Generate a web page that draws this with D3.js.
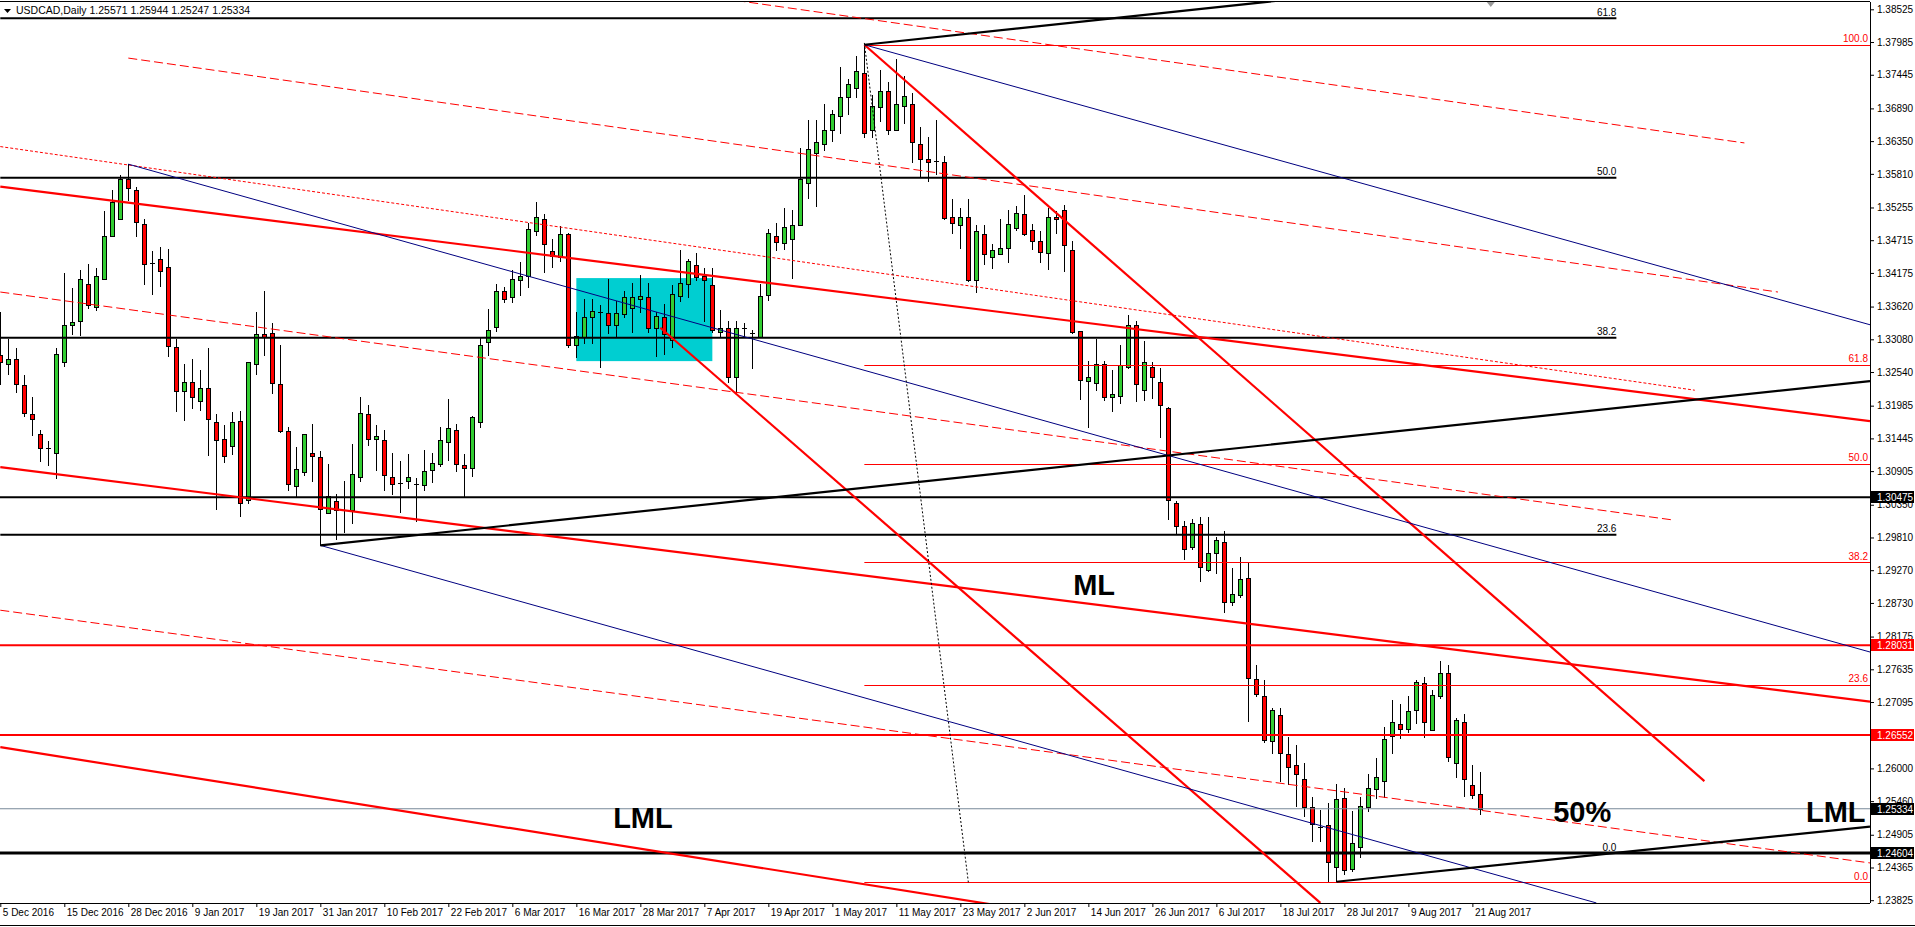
<!DOCTYPE html>
<html><head><meta charset="utf-8">
<script src="https://cdn.jsdelivr.net/npm/d3@7"></script>
<style>
html,body{margin:0;padding:0;background:#fff;overflow:hidden}
svg{display:block}
text{font-family:"Liberation Sans",Arial,sans-serif}
</style></head><body>
<svg id="c" width="1915" height="927"></svg>
<script>
// ---------- DATA ----------
const symbolTitle = "USDCAD,Daily";
const headerValues = ["1.25571","1.25944","1.25247","1.25334"];

const open = [1.3282,1.3268,1.3276,1.3233,1.3185,1.3151,1.3128,1.3121,1.3271,1.3331,
1.3339,1.3400,1.3362,1.3408,1.3478,1.3506,1.3573,1.3554,1.3499,1.3434,
1.3440,1.3427,1.3296,1.3223,1.3238,1.3207,1.3228,1.3171,1.3144,1.3132,
1.3174,1.3043,1.3268,1.3316,1.3319,1.3235,1.3157,1.3066,1.3089,1.3121,
1.3114,1.3022,1.3042,1.3027,1.3026,1.3080,1.3185,1.3143,1.3142,1.3081,
1.3071,1.3075,1.3070,1.3067,1.3093,1.3103,1.3139,1.3159,1.3100,1.3096,
1.3172,1.3303,1.3328,1.3388,1.3377,1.3406,1.3412,1.3486,1.3506,1.3453,
1.3444,1.3481,1.3299,1.3312,1.3345,1.3353,1.3352,1.3331,1.3350,1.3360,
1.3375,1.3378,1.3326,1.3345,1.3307,1.3380,1.3400,1.3430,1.3412,1.3397,
1.3320,1.3327,1.3245,1.3326,1.3319,1.3312,1.3381,1.3479,1.3467,1.3474,
1.3497,1.3566,1.3616,1.3631,1.3653,1.3677,1.3707,1.3722,1.3748,1.3653,
1.3691,1.3718,1.3653,1.3693,1.3697,1.3631,1.3605,1.3602,1.3601,1.3509,
1.3496,1.3510,1.3406,1.3482,1.3444,1.3449,1.3458,1.3492,1.3514,1.3489,
1.3470,1.3451,1.3509,1.3522,1.3456,1.3322,1.3240,1.3236,1.3268,1.3212,
1.3214,1.3262,1.3331,1.3225,1.3263,1.3238,1.3194,1.3038,1.3000,1.2965,
1.3004,1.2928,1.2956,1.2973,1.2874,1.2886,1.2914,1.2748,1.2720,1.2645,
1.2688,1.2623,1.2605,1.2583,1.2537,1.2504,1.2506,1.2438,1.2551,1.2434,
1.2471,1.2537,1.2566,1.2580,1.2654,1.2673,1.2665,1.2696,1.2741,1.2663,
1.2719,1.2757,1.2609,1.2676,1.2573,1.25571];

const high = [1.3353,1.3309,1.3294,1.3249,1.3212,1.3159,1.3140,1.3293,1.3417,1.3392,
1.3422,1.3433,1.3426,1.3519,1.3555,1.3579,1.3597,1.3559,1.3506,1.3453,
1.3460,1.3457,1.3308,1.3267,1.3276,1.3257,1.3293,1.3184,1.3167,1.3188,
1.3189,1.3270,1.3353,1.3387,1.3335,1.3298,1.3163,1.3130,1.3151,1.3169,
1.3123,1.3102,1.3052,1.3074,1.3135,1.3212,1.3199,1.3167,1.3158,1.3121,
1.3107,1.3119,1.3079,1.3126,1.3120,1.3164,1.3209,1.3169,1.3118,1.3181,
1.3312,1.3358,1.3400,1.3395,1.3423,1.3435,1.3500,1.3534,1.3514,1.3474,
1.3495,1.3484,1.3353,1.3374,1.3374,1.3364,1.3408,1.3371,1.3388,1.3401,
1.3414,1.3401,1.3353,1.3367,1.3398,1.3455,1.3440,1.3451,1.3426,1.3426,
1.3357,1.3339,1.3339,1.3335,1.3324,1.3399,1.3490,1.3500,1.3525,1.3521,
1.3624,1.3670,1.3670,1.3696,1.3686,1.3757,1.3738,1.3776,1.3794,1.3711,
1.3752,1.3732,1.3770,1.3742,1.3714,1.3658,1.3641,1.3670,1.3610,1.3540,
1.3525,1.3539,1.3496,1.3496,1.3466,1.3506,1.3522,1.3528,1.3546,1.3498,
1.3486,1.3525,1.3520,1.3529,1.3470,1.3322,1.3272,1.3308,1.3272,1.3257,
1.3299,1.3348,1.3338,1.3306,1.3270,1.3260,1.3197,1.3042,1.3009,1.3011,
1.3014,1.3014,1.2982,1.2992,1.2931,1.2949,1.2939,1.2770,1.2746,1.2699,
1.2700,1.2652,1.2639,1.2609,1.2552,1.2532,1.2543,1.2575,1.2567,1.2529,
1.2553,1.2591,1.2617,1.2668,1.2713,1.2706,1.2720,1.2746,1.2751,1.2730,
1.2778,1.2770,1.2683,1.2690,1.2606,1.25944];

const low = [1.3235,1.3251,1.3221,1.3182,1.3150,1.3107,1.3101,1.3079,1.3264,1.3316,
1.3315,1.3359,1.3356,1.3408,1.3478,1.3506,1.3538,1.3478,1.3399,1.3382,
1.3396,1.3281,1.3190,1.3175,1.3195,1.3191,1.3117,1.3028,1.3105,1.3118,
1.3016,1.3038,1.3251,1.3282,1.3220,1.3155,1.3059,1.3050,1.3084,1.3074,
1.2968,1.3022,1.2979,1.2990,1.3005,1.3074,1.3134,1.3092,1.3060,1.3052,
1.3023,1.3063,1.3009,1.3059,1.3072,1.3099,1.3109,1.3090,1.3050,1.3082,
1.3163,1.3282,1.3321,1.3370,1.3370,1.3381,1.3395,1.3480,1.3419,1.3428,
1.3438,1.3296,1.3279,1.3302,1.3302,1.3262,1.3318,1.3313,1.3345,1.3320,
1.3353,1.3320,1.3280,1.3283,1.3295,1.3371,1.3378,1.3406,1.3339,1.3320,
1.3312,1.3237,1.3219,1.3313,1.3261,1.3312,1.3373,1.3455,1.3457,1.3409,
1.3497,1.3541,1.3528,1.3621,1.3636,1.3649,1.3679,1.3707,1.3641,1.3642,
1.3669,1.3646,1.3653,1.3665,1.3601,1.3576,1.3569,1.3580,1.3507,1.3484,
1.3459,1.3405,1.3386,1.3433,1.3426,1.3449,1.3436,1.3488,1.3480,1.3457,
1.3436,1.3424,1.3483,1.3421,1.3318,1.3209,1.3163,1.3225,1.3208,1.3190,
1.3203,1.3261,1.3206,1.3208,1.3211,1.3146,1.3012,1.2989,1.2946,1.2962,
1.2910,1.2925,1.2922,1.2858,1.2870,1.2883,1.2678,1.2719,1.2643,1.2625,
1.2579,1.2575,1.2538,1.2521,1.2481,1.2480,1.2412,1.2412,1.2425,1.2430,
1.2453,1.2529,1.2551,1.2553,1.2626,1.2650,1.2660,1.2675,1.2651,1.2663,
1.2716,1.2613,1.2586,1.2555,1.2551,1.25247];

const close = [1.3270,1.3276,1.3235,1.3186,1.3177,1.3129,1.3127,1.3283,1.3331,1.3337,
1.3407,1.3365,1.3412,1.3479,1.3534,1.3573,1.3558,1.3501,1.3433,1.3433,
1.3421,1.3297,1.3223,1.3238,1.3213,1.3228,1.3177,1.3142,1.3115,1.3172,
1.3038,1.3270,1.3316,1.3311,1.3236,1.3156,1.3069,1.3094,1.3151,1.3115,
1.3028,1.3050,1.3026,1.3024,1.3086,1.3187,1.3144,1.3148,1.3084,1.3070,
1.3071,1.3081,1.3070,1.3091,1.3104,1.3142,1.3162,1.3103,1.3096,1.3179,
1.3299,1.3324,1.3388,1.3375,1.3408,1.3412,1.3490,1.3509,1.3465,1.3445,
1.3481,1.3299,1.3313,1.3345,1.3354,1.3351,1.3332,1.3352,1.3377,1.3378,
1.3380,1.3327,1.3347,1.3317,1.3383,1.3401,1.3438,1.3411,1.3406,1.3324,
1.3327,1.3246,1.3326,1.3325,1.3316,1.3380,1.3484,1.3469,1.3494,1.3497,
1.3572,1.3622,1.3633,1.3653,1.3679,1.3707,1.3730,1.3750,1.3648,1.3693,
1.3718,1.3653,1.3696,1.3710,1.3633,1.3605,1.3601,1.3601,1.3508,1.3500,
1.3510,1.3406,1.3487,1.3448,1.3455,1.3459,1.3499,1.3516,1.3482,1.3471,
1.3452,1.3509,1.3506,1.3464,1.3320,1.3241,1.3246,1.3268,1.3212,1.3217,
1.3266,1.3331,1.3235,1.3270,1.3246,1.3200,1.3043,1.3000,1.2962,1.3005,
1.2933,1.2956,1.2977,1.2874,1.2888,1.2913,1.2749,1.2722,1.2647,1.2696,
1.2625,1.2603,1.2591,1.2537,1.2508,1.2504,1.2446,1.2549,1.2432,1.2477,
1.2538,1.2568,1.2585,1.2649,1.2676,1.2665,1.2694,1.2743,1.2676,1.2721,
1.2757,1.2619,1.2680,1.2583,1.2556,1.25334];

const dateTickBars = [0,8,16,24,32,40,48,56,64,72,80,88,96,104,112,120,128,136,144,152,160,168,176,184];
const dateLabels = ["5 Dec 2016","15 Dec 2016","28 Dec 2016","9 Jan 2017","19 Jan 2017","31 Jan 2017",
"10 Feb 2017","22 Feb 2017","6 Mar 2017","16 Mar 2017","28 Mar 2017","7 Apr 2017","19 Apr 2017",
"1 May 2017","11 May 2017","23 May 2017","2 Jun 2017","14 Jun 2017","26 Jun 2017","6 Jul 2017",
"18 Jul 2017","28 Jul 2017","9 Aug 2017","21 Aug 2017"];

const priceTicks = [1.38525,1.37985,1.37445,1.36890,1.36350,1.35810,1.35255,1.34715,1.34175,1.33620,
1.33080,1.32540,1.31985,1.31445,1.30905,1.30350,1.29810,1.29270,1.28730,1.28175,1.27635,1.27095,
1.26555,1.26000,1.25460,1.24905,1.24365,1.23825];

// horizontal price lines
const hLevels = [
  {price:1.30475, kind:"black"},
  {price:1.24604, kind:"blackHeavy"},
  {price:1.28031, kind:"red"},
  {price:1.26552, kind:"red"},
  {price:1.25334, kind:"grey"}
];
// Fibonacci (black) levels, anchored from bar 0 to bar 202
const fibBlackBars = [0, 202];
const fibBlack = [{label:"61.8",price:1.38377},{label:"50.0",price:1.35747},{label:"38.2",price:1.33107},
                  {label:"23.6",price:1.29856},{label:"0.0",price:1.24604}];
// Fibonacci (red) levels from the 5 May high (bar 108) to the right edge
const fibRedStart = 108;
const fibRed = [{label:"100.0",price:1.37936},{label:"61.8",price:1.32659},{label:"50.0",price:1.31029},
                {label:"38.2",price:1.29398},{label:"23.6",price:1.27381},{label:"0.0",price:1.24121}];

// trend lines: anchor points (bar index, price)
const trendLines = [
  {kind:"redThick", b1:0, p1:1.3560, b2:233.7, p2:1.3173},
  {kind:"redThick", b1:0, p1:1.3097, b2:233.7, p2:1.2710},
  {kind:"redThick", b1:0, p1:1.2635, b2:160, p2:1.2300},
  {kind:"redThick", b1:108, p1:1.3794, b2:213, p2:1.2579},
  {kind:"redThick", b1:82.5, p1:1.3327, b2:165, p2:1.2378},
  {kind:"redDot",  b1:0, p1:1.3626, b2:211.8, p2:1.3224},
  {kind:"redDash", b1:16, p1:1.3772, b2:222.2, p2:1.3386},
  {kind:"redDash", b1:92, p1:1.3867, b2:218, p2:1.3632},
  {kind:"redDash", b1:0, p1:1.3386, b2:209, p2:1.3010},
  {kind:"redDash", b1:0, p1:1.2861, b2:233.7, p2:1.2444},
  {kind:"blue", b1:16, p1:1.3597, b2:233.7, p2:1.2792},
  {kind:"blue", b1:108, p1:1.3794, b2:233.7, p2:1.3332},
  {kind:"blue", b1:40, p1:1.2968, b2:199.5, p2:1.2378},
  {kind:"blackThick", b1:40, p1:1.2968, b2:233.7, p2:1.3239},
  {kind:"blackThick", b1:108, p1:1.3794, b2:162, p2:1.3870},
  {kind:"blackThick", b1:167, p1:1.2413, b2:233.7, p2:1.2504},
  {kind:"blackDot", b1:108, p1:1.3797, b2:121, p2:1.2412}
];

const boxZone = {b1:72, b2:89, pTop:1.3409, pBottom:1.3272};

const annotations = [
  {text:"ML",  bar:134.1, price:1.28861},
  {text:"LML", bar:76.6,  price:1.25017},
  {text:"50%", bar:194.1, price:1.25115},
  {text:"LML", bar:225.7, price:1.25115}
];

const priceTags = [
  {price:1.30475, kind:"black"},
  {price:1.28031, kind:"red"},
  {price:1.26552, kind:"red"},
  {price:1.25334, kind:"black"},
  {price:1.24604, kind:"black"}
];

// ---------- STYLES ----------
const lineStyle = {
  redThick:{stroke:"#ff0000", w:2.2, dash:null},
  redDot:{stroke:"#ff0000", w:1, dash:"3,2"},
  redDash:{stroke:"#ff0000", w:1, dash:"9,4"},
  blue:{stroke:"#000080", w:1, dash:null},
  blackThick:{stroke:"#000000", w:2.2, dash:null},
  blackDot:{stroke:"#000000", w:1, dash:"2,2"}
};
const hStyle = {
  black:{stroke:"#000", w:2},
  blackHeavy:{stroke:"#000", w:3},
  red:{stroke:"#ff0000", w:2},
  grey:{stroke:"#778899", w:1}
};
const GREEN = "#32cd32", RED = "#ff0000";

// ---------- CHART ----------
const W = 1915, H = 927;
const plotL = 0, plotR = 1870, plotT = 2, plotB = 903;
const svg = d3.select("#c");
svg.append("rect").attr("width",W).attr("height",H).attr("fill","#fff");

const x = d3.scaleLinear().domain([0, 233.7]).range([0.3, plotR]);
const y = d3.scaleLinear().domain([1.24604, 1.38525]).range([853, 9.3]);

svg.append("defs").append("clipPath").attr("id","plotclip")
  .append("rect").attr("x",plotL).attr("y",plotT).attr("width",plotR-plotL).attr("height",plotB-plotT);

const plot = svg.append("g").attr("clip-path","url(#plotclip)");

// cyan zone (background)
plot.append("rect")
  .attr("x", x(boxZone.b1)).attr("y", y(boxZone.pTop))
  .attr("width", x(boxZone.b2)-x(boxZone.b1)).attr("height", y(boxZone.pBottom)-y(boxZone.pTop))
  .attr("fill","#00ced1");

// candles
const idx = d3.range(open.length);
const cg = plot.append("g").attr("shape-rendering","crispEdges");
idx.forEach(i=>{
  const c = Math.round(x(i));
  const yh = Math.round(y(high[i])), yl = Math.round(y(low[i]));
  cg.append("line").attr("x1",c+0.5).attr("x2",c+0.5).attr("y1",yh).attr("y2",yl+1)
    .attr("stroke","#000").attr("stroke-width",1);
  const yo = Math.round(y(open[i])), yc = Math.round(y(close[i]));
  const top = Math.min(yo,yc), bot = Math.max(yo,yc);
  if (bot - top < 2) {
    cg.append("line").attr("x1",c-2).attr("x2",c+3).attr("y1",top+0.5).attr("y2",top+0.5)
      .attr("stroke","#000").attr("stroke-width",1);
  } else {
    cg.append("rect").attr("x",c-1.5).attr("y",top+0.5).attr("width",4).attr("height",bot-top)
      .attr("fill", close[i] > open[i] ? GREEN : RED).attr("stroke","#000").attr("stroke-width",1);
  }
});

// horizontal levels
hLevels.forEach(h=>{
  const s = hStyle[h.kind];
  plot.append("line").attr("x1",plotL).attr("x2",plotR).attr("y1",y(h.price)).attr("y2",y(h.price))
    .attr("stroke",s.stroke).attr("stroke-width",s.w);
});

// black fib
fibBlack.forEach(f=>{
  plot.append("line").attr("x1",x(fibBlackBars[0])).attr("x2",x(fibBlackBars[1]))
    .attr("y1",y(f.price)).attr("y2",y(f.price)).attr("stroke","#000").attr("stroke-width",2);
  plot.append("text").attr("x",x(fibBlackBars[1])).attr("y",y(f.price)-2.5).attr("text-anchor","end")
    .attr("font-size","10px").attr("fill","#000").text(f.label);
});
// red fib
fibRed.forEach(f=>{
  plot.append("line").attr("x1",x(fibRedStart)).attr("x2",plotR)
    .attr("y1",Math.round(y(f.price))+0.5).attr("y2",Math.round(y(f.price))+0.5).attr("stroke","#ff0000").attr("stroke-width",1);
  plot.append("text").attr("x",plotR-2).attr("y",y(f.price)-2.5).attr("text-anchor","end")
    .attr("font-size","10px").attr("fill","#ff0000").text(f.label);
});

// trend lines
trendLines.forEach(t=>{
  const s = lineStyle[t.kind];
  const l = plot.append("line").attr("x1",x(t.b1)).attr("y1",y(t.p1)).attr("x2",x(t.b2)).attr("y2",y(t.p2))
    .attr("stroke",s.stroke).attr("stroke-width",s.w);
  if (s.dash) l.attr("stroke-dasharray",s.dash);
});

// annotations
annotations.forEach(a=>{
  plot.append("text").attr("x",x(a.bar)).attr("y",y(a.price))
    .attr("font-size","29px").attr("font-weight","bold").attr("fill","#000").text(a.text);
});

// header
svg.append("line").attr("x1",0).attr("x2",plotR).attr("y1",1.5).attr("y2",1.5).attr("stroke","#000").attr("stroke-width",1);
svg.append("path").attr("d","M4,9 L11,9 L7.5,13 Z").attr("fill","#000");
svg.append("text").attr("x",16).attr("y",14).attr("font-size","10.5px").attr("fill","#000")
  .text(symbolTitle + "  " + headerValues.join(" "));
// chart shift marker
svg.append("path").attr("d",`M${x(186.3)-4},2 L${x(186.3)+4},2 L${x(186.3)},7 Z`).attr("fill","#999");

// right axis
const ya = svg.append("g").attr("transform",`translate(${plotR},0)`)
  .call(d3.axisRight(y).tickValues(priceTicks).tickFormat(d3.format(".5f")).tickSize(4).tickSizeOuter(0));
ya.select(".domain").attr("d",`M0.5,${plotT}V${plotB}`).attr("stroke","#000");
ya.selectAll(".tick line").attr("stroke","#000");
ya.selectAll(".tick text").attr("x",7).attr("font-size","10px").attr("fill","#000")
  .attr("font-family","'Liberation Sans',Arial,sans-serif");

// price tags
priceTags.forEach(p=>{
  const yy = Math.round(y(p.price));
  svg.append("rect").attr("x",plotR+1).attr("y",yy-6).attr("width",43).attr("height",12)
    .attr("fill", p.kind==="red" ? "#ff0000" : "#000");
  svg.append("text").attr("x",plotR+7).attr("y",yy).attr("dy","0.35em").attr("font-size","10px")
    .attr("fill","#fff").text(d3.format(".5f")(p.price));
});

// bottom axis
const xa = svg.append("g").attr("transform",`translate(0,${plotB})`)
  .call(d3.axisBottom(x).tickValues(dateTickBars).tickFormat((d,i)=>dateLabels[i]).tickSize(4).tickSizeOuter(0));
xa.select(".domain").attr("d",`M${plotL},0.5H${plotR}`).attr("stroke","#000");
xa.selectAll(".tick line").attr("stroke","#000");
xa.selectAll(".tick text").attr("text-anchor","start").attr("x",2).attr("y",13).attr("dy",0)
  .attr("font-size","10px").attr("fill","#000").attr("font-family","'Liberation Sans',Arial,sans-serif");
svg.append("line").attr("x1",0).attr("x2",W).attr("y1",925.5).attr("y2",925.5).attr("stroke","#000");
</script>
</body></html>
